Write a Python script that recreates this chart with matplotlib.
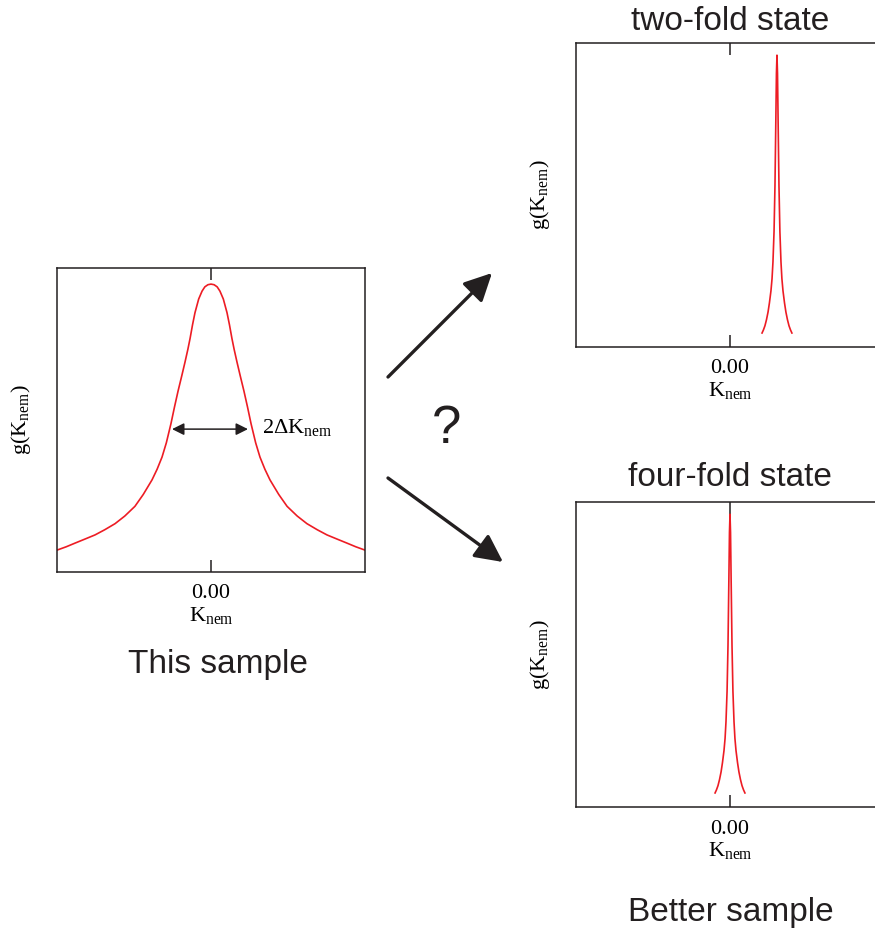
import matplotlib
matplotlib.use('Agg')
import matplotlib.pyplot as plt

plt.rcParams['mathtext.fontset'] = 'custom'
plt.rcParams['mathtext.rm'] = 'Liberation Serif'
plt.rcParams['mathtext.it'] = 'Liberation Serif:italic'

RED = '#ED1C24'
INK = '#231F20'
SERIF = 'Liberation Serif'
SANS = 'Liberation Sans'

# broad distribution, "This sample"
broad_k = [-1.0, -0.94, -0.883, -0.82, -0.753, -0.69, -0.623, -0.56, -0.494,
           -0.44, -0.383, -0.35, -0.318, -0.29, -0.26, -0.237, -0.214, -0.19,
           -0.169, -0.15, -0.136, -0.12, -0.104, -0.08, -0.058, -0.04, -0.02, 0.0,
           0.02, 0.04, 0.058, 0.08, 0.104, 0.12, 0.136, 0.15, 0.169, 0.19,
           0.214, 0.237, 0.26, 0.29, 0.318, 0.35, 0.383, 0.44, 0.494, 0.56,
           0.623, 0.69, 0.753, 0.82, 0.883, 0.94, 1.0]
broad_g = [0.072, 0.083, 0.095, 0.108, 0.122, 0.139, 0.159, 0.184, 0.216,
           0.255, 0.303, 0.338, 0.378, 0.425, 0.488, 0.543, 0.595, 0.645,
           0.690, 0.733, 0.768, 0.813, 0.853, 0.898, 0.924, 0.938, 0.945, 0.947,
           0.945, 0.938, 0.924, 0.898, 0.853, 0.813, 0.768, 0.733, 0.690, 0.645,
           0.595, 0.543, 0.488, 0.425, 0.378, 0.338, 0.303, 0.255, 0.216, 0.184,
           0.159, 0.139, 0.122, 0.108, 0.095, 0.083, 0.072]

# two-fold state: narrow peak shifted off zero
twofold_k = [0.208, 0.217, 0.227, 0.237, 0.247, 0.256, 0.266, 0.273, 0.279,
             0.286, 0.292, 0.2975, 0.3015, 0.305,
             0.3085, 0.3125, 0.318, 0.324, 0.331, 0.337, 0.344, 0.354, 0.363,
             0.373, 0.383, 0.393, 0.402]
twofold_g = [0.046, 0.056, 0.070, 0.090, 0.115, 0.145, 0.185, 0.225, 0.280,
             0.380, 0.530, 0.740, 0.900, 0.960,
             0.900, 0.740, 0.530, 0.380, 0.280, 0.225, 0.185, 0.145, 0.115,
             0.090, 0.070, 0.056, 0.046]

# four-fold state: narrow peak at zero
fourfold_k = [-0.097, -0.088, -0.078, -0.068, -0.058, -0.049, -0.039, -0.032,
              -0.026, -0.019, -0.013, -0.0075, -0.0035, 0.0,
              0.0035, 0.0075, 0.013, 0.019, 0.026, 0.032, 0.039, 0.049, 0.058,
              0.068, 0.078, 0.088, 0.097]
fourfold_g = [0.046, 0.056, 0.070, 0.090, 0.115, 0.145, 0.185, 0.225,
              0.280, 0.380, 0.530, 0.740, 0.900, 0.960,
              0.900, 0.740, 0.530, 0.380, 0.280, 0.225, 0.185, 0.145, 0.115,
              0.090, 0.070, 0.056, 0.046]

W, H = 875, 934
fig = plt.figure(figsize=(W / 100, H / 100), dpi=100)


def px_axes(x0, y0, x1, y1):
    # pixel box (top-left origin) -> figure fraction
    return fig.add_axes([x0 / W, 1 - y1 / H, (x1 - x0) / W, (y1 - y0) / H])


def style(ax):
    ax.set_xlim(-1, 1)
    ax.set_ylim(0, 1)
    ax.set_xticks([0])
    ax.set_xticklabels(['0.00'], fontsize=16, family=SERIF)
    ax.set_yticks([])
    ax.tick_params(axis='x', direction='in', top=True, length=8.5, width=1.1,
                   color=INK, pad=9)
    for s in ax.spines.values():
        s.set_linewidth(1.1)
        s.set_color(INK)
    ax.set_xlabel(r'K$_{\mathrm{nem}}$', fontsize=16, family=SERIF, labelpad=1)
    ax.set_ylabel(r'g(K$_{\mathrm{nem}}$)', fontsize=16, family=SERIF, labelpad=17)


ax1 = px_axes(57, 268, 365, 572)
ax1.plot(broad_k, broad_g, color=RED, lw=1.2)
style(ax1)
ax1.annotate('', xy=(-0.253, 0.47), xytext=(0.240, 0.47),
             arrowprops=dict(arrowstyle='<|-|>', color=INK, lw=1.1,
                             mutation_scale=18, shrinkA=0, shrinkB=0))
ax1.text(0.33, 0.475, r'2$\Delta$K$_{\mathrm{nem}}$', fontsize=16, family=SERIF,
         va='center', ha='left')

ax2 = px_axes(576, 43, 884, 347)
ax2.plot(twofold_k, twofold_g, color=RED, lw=1.2)
style(ax2)

ax3 = px_axes(576, 502, 884, 807)
ax3.plot(fourfold_k, fourfold_g, color=RED, lw=1.2)
style(ax3)

fig.text(730 / W, 1 - 21 / H, 'two-fold state', fontsize=24, family=SANS,
         ha='center', va='center', color=INK)
fig.text(730 / W, 1 - 477 / H, 'four-fold state', fontsize=24, family=SANS,
         ha='center', va='center', color=INK)
fig.text(731 / W, 1 - 913 / H, 'Better sample', fontsize=24, family=SANS,
         ha='center', va='center', color=INK)
fig.text(218 / W, 1 - 664 / H, 'This sample', fontsize=24, family=SANS,
         ha='center', va='center', color=INK)
fig.text(447 / W, 1 - 429 / H, '?', fontsize=38, family=SANS,
         ha='center', va='center', color=INK)

# the two big arrows
for tail, tip in [((388, 377), (492, 273)), ((388, 478), (503, 562))]:
    fig.add_artist(matplotlib.patches.FancyArrowPatch(
        (tail[0] / W, 1 - tail[1] / H), (tip[0] / W, 1 - tip[1] / H),
        transform=fig.transFigure, arrowstyle='-|>', mutation_scale=42,
        color=INK, lw=2.4, shrinkA=0, shrinkB=0))

fig.savefig('out.png', dpi=100)
